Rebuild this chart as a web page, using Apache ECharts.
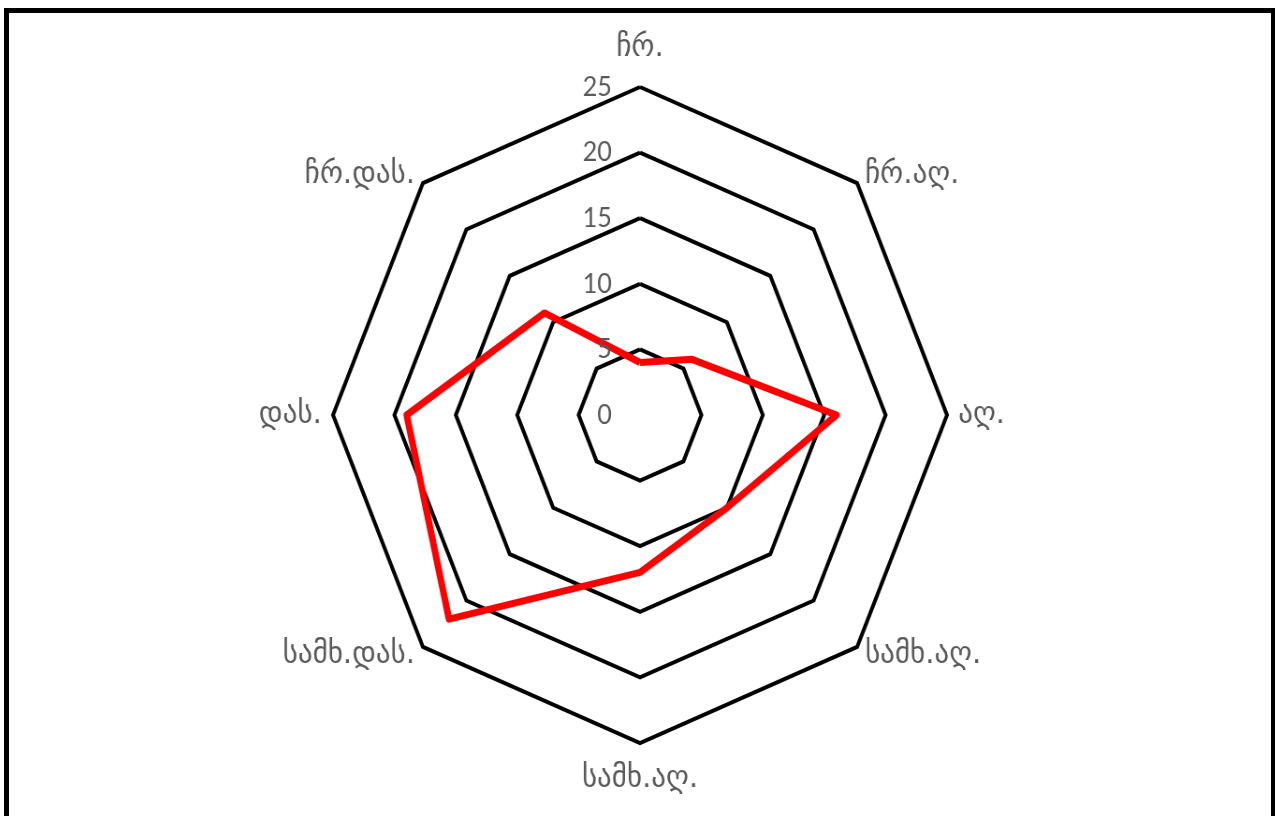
<!DOCTYPE html>
<html>
<head>
<meta charset="utf-8">
<script src="https://cdn.jsdelivr.net/npm/echarts@6/dist/echarts.min.js"></script>
<style>
  html, body { margin: 0; padding: 0; background: #fff; overflow: hidden; }
  #frame {
    position: absolute; left: 4px; top: 8px; width: 1262px; height: 830px;
    border: 5px solid #000; box-sizing: content-box;
  }
  /* the source picture is a little narrower than it is tall */
  #chart {
    position: absolute; left: 0; top: 0; width: 1275px; height: 816px;
    transform: scaleX(0.936); transform-origin: 640px 0;
  }
</style>
</head>
<body>
<div id="frame"></div>
<div id="chart"></div>
<script>
// indicator names, counter-clockwise from the top
var directions = ['ჩრ.', 'ჩრ.დას.', 'დას.', 'სამხ.დას.', 'სამხ.აღ.', 'სამხ.აღ.', 'აღ.', 'ჩრ.აღ.'];
var values = [4, 11, 19, 22, 12, 10, 16, 6];
var tickLabels = ['0', '5', '10', '15', '20', '25'];
var maxValue = 25;

var chart = echarts.init(document.getElementById('chart'));
var nameFont = { color: '#595959', fontSize: 31, fontFamily: 'DejaVu Sans' };
var tickFont = { color: '#595959', fontSize: 27, fontFamily: 'Lato' };

var indicators = directions.map(function (d) {
  return { name: d, min: 0, max: maxValue };
});

// names are formatted in indicator order; top and bottom sit a bit further out
var nameCount = 0;
function nameFormatter(name) {
  var i = nameCount++ % directions.length;
  if (i === 0) return '{top|' + name + '}';
  if (i === 4) return '{bot|' + name + '}';
  return name;
}

chart.setOption({
  animation: false,
  radar: {
    center: [640, 415],
    radius: 328,
    startAngle: 90,
    shape: 'polygon',
    splitNumber: 5,
    nameGap: 12,
    axisName: Object.assign({
      formatter: nameFormatter,
      rich: {
        top: Object.assign({ padding: [0, 0, 12, 0] }, nameFont),
        bot: Object.assign({ padding: [8, 0, 0, 0] }, nameFont)
      }
    }, nameFont),
    indicator: indicators,
    axisLine: { show: false },
    axisTick: { show: false },
    axisLabel: { show: false },
    splitArea: { show: false },
    splitLine: { lineStyle: { color: '#000', width: 4 } }
  },
  polar: { center: [640, 415], radius: 328 },
  angleAxis: { show: false, startAngle: 90, min: 0, max: 360 },
  radiusAxis: {
    min: 0, max: maxValue, interval: 5,
    axisLine: { show: false },
    axisTick: { show: false },
    splitLine: { show: false },
    axisLabel: Object.assign({ margin: 30, formatter: function (v) { return tickLabels[v / 5]; } }, tickFont),
    z: 10
  },
  series: [{
    type: 'radar',
    symbol: 'none',
    lineStyle: { color: '#ff0000', width: 7 },
    data: [{ value: values }]
  }]
});
</script>
</body>
</html>
